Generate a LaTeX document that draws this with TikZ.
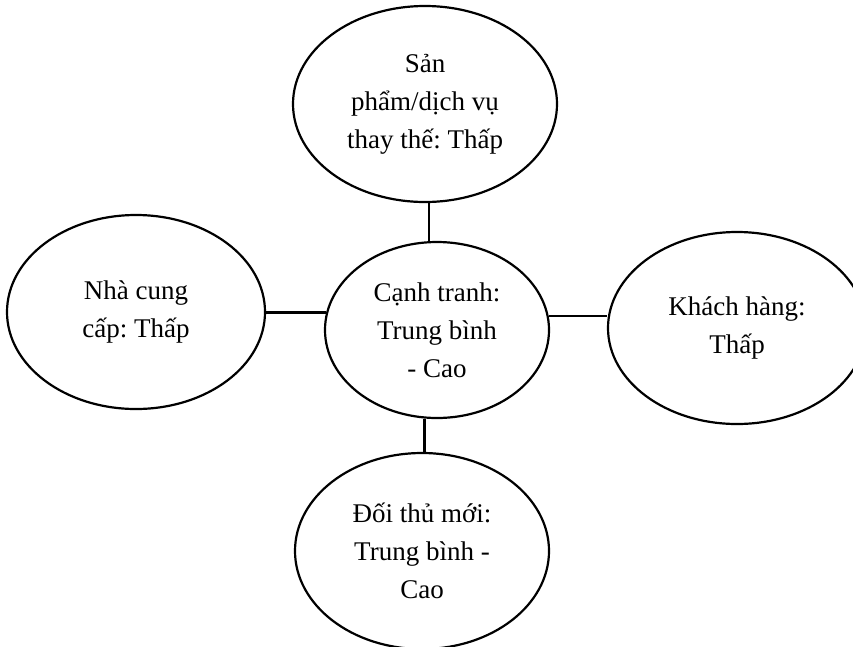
\documentclass[tikz,border=0pt]{standalone}
\usepackage{fontspec}
\setmainfont{Liberation Serif}
\frenchspacing
\usetikzlibrary{shapes.geometric}
\begin{document}
\begin{tikzpicture}[x=1pt,y=-1pt,
  bubble/.style={ellipse,draw,line width=2.2pt,inner sep=0pt,align=center,
    font=\fontsize{27}{38}\selectfont},
  link/.style={line width=2.2pt}]
\useasboundingbox (0,0) rectangle (853,646);
\begin{scope}
\clip (0,0) rectangle (853,646);
\node[bubble,minimum width=264pt,minimum height=196pt] (top) at (425,104) {Sản\\phẩm/dịch vụ\\thay thế: Thấp};
\node[bubble,minimum width=224pt,minimum height=176pt] (center) at (437,330) {Cạnh tranh:\\Trung bình\\- Cao};
\node[bubble,minimum width=258pt,minimum height=194pt] (left) at (136,312) {Nhà cung\\cấp: Thấp};
\node[bubble,minimum width=258pt,minimum height=192pt] (right) at (737,328) {Khách hàng:\\Thấp};
\node[bubble,minimum width=254pt,minimum height=196pt] (bottom) at (422,551) {Đối thủ mới:\\Trung bình -\\Cao};
\draw[link] (center.95) -- (center.95 |- top.south);
\draw[link] (center.-98) -- (center.-98 |- bottom.north);
\draw[link] (center.171) -- (center.171 -| left.east);
\draw[link] (center.7) -- (center.7 -| right.west);
\end{scope}
\end{tikzpicture}
\end{document}
